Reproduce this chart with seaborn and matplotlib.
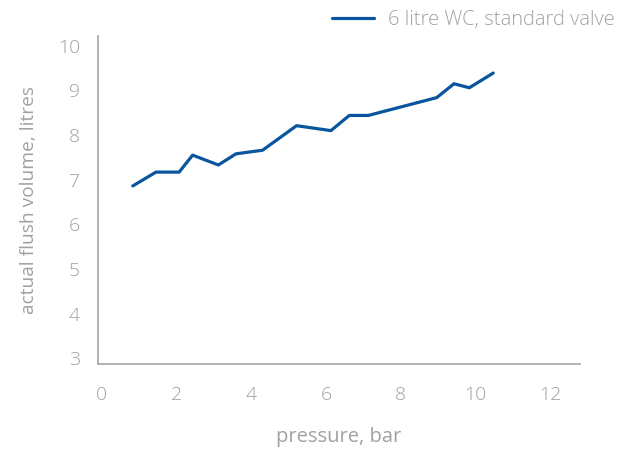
import matplotlib
matplotlib.use("Agg")
import matplotlib.pyplot as plt
import seaborn as sns
import pandas as pd

pressure_bar = [0.83, 1.45, 2.07, 2.43, 3.12, 3.59, 4.30, 5.21, 6.13, 6.62, 7.13, 8.96, 9.42, 9.83, 10.47]
flush_litres = [6.86, 7.17, 7.17, 7.55, 7.33, 7.58, 7.66, 8.21, 8.10, 8.44, 8.44, 8.84, 9.15, 9.06, 9.39]
series_name = "6 litre WC, standard valve"
x_ticks = [0, 2, 4, 6, 8, 10, 12]
y_ticks = [3, 4, 5, 6, 7, 8, 9, 10]

df = pd.DataFrame({"pressure": pressure_bar, "volume": flush_litres, "series": series_name})

sns.set_style("white")
plt.rcParams["font.family"] = ["Open Sans", "DejaVu Sans"]
plt.rcParams["font.weight"] = "light"

grey_text = "#9ea39e"
spine_col = "#a9aca9"
line_col = "#0a559e"
fs_tick = 14
fs_lab = 14.5

fig = plt.figure(figsize=(6.38, 4.53), dpi=100)
ax = fig.add_axes([98/638, 1 - 364/453, (580 - 98)/638, (364 - 36)/453])

sns.lineplot(data=df, x="pressure", y="volume", hue="series", palette=[line_col],
             linewidth=2.3, ax=ax, sort=False)

ax.set_xlim(-0.1, 12.79)
ax.set_ylim(2.87, 10.22)
ax.set_xticks(x_ticks)
ax.set_yticks(y_ticks)
ax.tick_params(axis="both", length=0, labelsize=fs_tick, labelcolor=grey_text)
ax.tick_params(axis="x", pad=15.5)
ax.tick_params(axis="y", pad=13)

for s in ["top", "right"]:
    ax.spines[s].set_visible(False)
for s in ["left", "bottom"]:
    ax.spines[s].set_color(spine_col)
    ax.spines[s].set_linewidth(1.3)

ax.set_xlabel("pressure, bar", fontsize=fs_lab, color=grey_text, labelpad=17)
ax.set_ylabel("actual flush volume, litres", fontsize=13.8, color=grey_text, labelpad=14)

handles, labels = ax.get_legend_handles_labels()
ax.legend(handles, labels, loc="center left", bbox_to_anchor=(332/638, 1 - 20/453),
          bbox_transform=fig.transFigure, frameon=False, borderpad=0, borderaxespad=0,
          handlelength=2.1, handletextpad=0.7, fontsize=fs_lab, labelcolor=grey_text)

fig.savefig("out.png", dpi=100)
